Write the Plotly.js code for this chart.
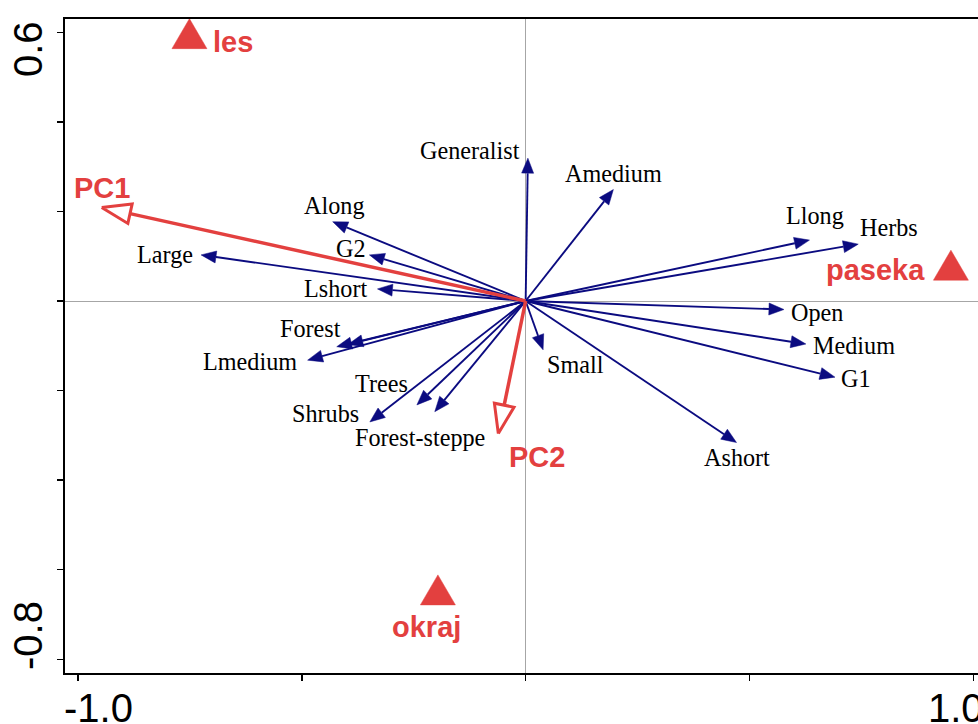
<!DOCTYPE html>
<html>
<head>
<meta charset="utf-8">
<script src="https://cdn.plot.ly/plotly-3.0.1.min.js"></script>
<style>
  html, body { margin: 0; padding: 0; background: #ffffff; overflow: hidden; }
  #chart { width: 978px; height: 724px; }
</style>
</head>
<body>
<div id="chart"></div>
<script>
// ---------------- DATA ----------------
// species-trait vectors (blue arrows)
const varNames = ['Generalist','Amedium','Along','G2','Large','Lshort','Llong','Herbs','Open','Medium','G1','Small','Ashort','Forest','','Lmedium','Trees','Shrubs','Forest-steppe'];
const varX = [0.005, 0.196, -0.431, -0.349, -0.725, -0.331, 0.634, 0.743, 0.577, 0.626, 0.691, 0.039, 0.471, -0.422, -0.397, -0.487, -0.243, -0.348, -0.203];
const varY = [0.319, 0.249, 0.177, 0.103, 0.103, 0.027, 0.136, 0.127, -0.019, -0.096, -0.170, -0.109, -0.316, -0.102, -0.097, -0.132, -0.232, -0.270, -0.247];

// supplementary vectors (red hollow arrows)
const pcNames = ['PC1', 'PC2'];
const pcX = [-0.947, -0.061];
const pcY = [0.209, -0.296];

// sites (red triangles)
const siteNames = ['les', 'paseka', 'okraj'];
const siteX = [-0.751, 0.950, -0.196];
const siteY = [0.597, 0.080, -0.645];

// axis ticks
const xTickVals = [-1.0, -0.5, 0, 0.5, 1.0];
const yTickVals = [-0.8, -0.6, -0.4, -0.2, 0, 0.2, 0.4, 0.6];
const xLabelVals = [-1.0, 1.0];
const xLabelText = ['-1.0', '1.0'];
const yLabelVals = [0.6, -0.8];
const yLabelText = ['0.6', '-0.8'];

// ---------------- LAYOUT / STYLE ----------------
const W = 978, H = 724;
const M = { l: 65, r: 0, t: 19, b: 51 };
const xRange = [-1.029, 1.0105];
const yRange = [-0.8306, 0.6297];
const pw = W - M.l - M.r, ph = H - M.t - M.b;
const sx = pw / (xRange[1] - xRange[0]);
const sy = ph / (yRange[1] - yRange[0]);

const BLUE = '#0b0b80';
const RED = '#e3403f';

// label offsets in pixels (dx right, dy down) from arrow tip to label centre
const varLabelOff = [[-57.8,-7.6],[0,-16],[1.3,-16.7],[-18.5,-6.7],[-35.7,0],[-42,-0.7],[5.7,-25],[30.4,-16.7],[33.5,3],[47.8,1],[21,1],[32.4,15],[0.5,15],[-26,-18.4],[0,0],[-58,1.7],[-35,-21.7],[-44.5,-8.4],[-14.5,26]];
const pcLabelOff = [[0.3,-19],[38.7,23.4]];
const siteLabelOff = [[43.3,8],[-75.4,4.7],[-11.3,37.3]];

// arrow head built from the data tip in pixel space, converted back to data units
function arrowParts(tx, ty, len, hw) {
  const px = tx * sx, py = ty * sy;
  const L = Math.hypot(px, py);
  const ux = px / L, uy = py / L;
  const nx = -uy, ny = ux;
  const bx = px - ux * len, by = py - uy * len;
  return {
    base: [bx / sx, by / sy],
    head: [[px / sx, py / sy], [(bx + nx * hw) / sx, (by + ny * hw) / sy], [(bx - nx * hw) / sx, (by - ny * hw) / sy], [px / sx, py / sy]]
  };
}

function triangle(cx, cy, w, h) {
  const dx = (w / 2) / sx, dyTop = (h / 2) / sy;
  return [[cx, cy + dyTop], [cx + dx, cy - dyTop], [cx - dx, cy - dyTop], [cx, cy + dyTop]];
}

// blue arrows
const bShaftX = [], bShaftY = [], bHeadX = [], bHeadY = [];
for (let i = 0; i < varX.length; i++) {
  const a = arrowParts(varX[i], varY[i], 15, 6);
  bShaftX.push(0, a.base[0], null); bShaftY.push(0, a.base[1], null);
  a.head.forEach(p => { bHeadX.push(p[0]); bHeadY.push(p[1]); });
  bHeadX.push(null); bHeadY.push(null);
}
// red arrows
const rShaftX = [], rShaftY = [], rHeadX = [], rHeadY = [];
for (let i = 0; i < pcX.length; i++) {
  const a = arrowParts(pcX[i], pcY[i], 29, 10);
  rShaftX.push(0, a.base[0], null); rShaftY.push(0, a.base[1], null);
  a.head.forEach(p => { rHeadX.push(p[0]); rHeadY.push(p[1]); });
  rHeadX.push(null); rHeadY.push(null);
}
// site triangles
const tX = [], tY = [];
for (let i = 0; i < siteX.length; i++) {
  triangle(siteX[i], siteY[i], 35, 30).forEach(p => { tX.push(p[0]); tY.push(p[1]); });
  tX.push(null); tY.push(null);
}

const traces = [
  { type: 'scatter', mode: 'lines', x: bShaftX, y: bShaftY, line: { color: BLUE, width: 1.9 }, hoverinfo: 'skip', showlegend: false },
  { type: 'scatter', mode: 'lines', x: bHeadX, y: bHeadY, fill: 'toself', fillcolor: BLUE, line: { color: BLUE, width: 0.5 }, hoverinfo: 'skip', showlegend: false },
  { type: 'scatter', mode: 'lines', x: rShaftX, y: rShaftY, line: { color: RED, width: 3.5 }, hoverinfo: 'skip', showlegend: false },
  { type: 'scatter', mode: 'lines', x: rHeadX, y: rHeadY, fill: 'toself', fillcolor: '#ffffff', line: { color: RED, width: 3 }, hoverinfo: 'skip', showlegend: false },
  { type: 'scatter', mode: 'lines', x: tX, y: tY, fill: 'toself', fillcolor: RED, line: { color: RED, width: 0.5 }, hoverinfo: 'skip', showlegend: false }
];

const annotations = [];
const serif = { family: 'Liberation Serif, Times New Roman, serif', size: 24.2, color: '#000000' };
const boldSans = { family: 'Liberation Sans, Arial, sans-serif', size: 29, color: RED, weight: 700 };
const tickFont = { family: 'Liberation Sans, Arial, sans-serif', size: 40, color: '#000000' };

varNames.forEach((n, i) => {
  if (!n) return;
  annotations.push({ x: varX[i], y: varY[i], xref: 'x', yref: 'y', text: n, showarrow: false, font: serif,
    xanchor: 'center', yanchor: 'middle', xshift: varLabelOff[i][0], yshift: -varLabelOff[i][1] });
});
pcNames.forEach((n, i) => {
  annotations.push({ x: pcX[i], y: pcY[i], xref: 'x', yref: 'y', text: n, showarrow: false, font: boldSans,
    xanchor: 'center', yanchor: 'middle', xshift: pcLabelOff[i][0], yshift: -pcLabelOff[i][1] });
});
siteNames.forEach((n, i) => {
  annotations.push({ x: siteX[i], y: siteY[i], xref: 'x', yref: 'y', text: n, showarrow: false, font: boldSans,
    xanchor: 'center', yanchor: 'middle', xshift: siteLabelOff[i][0], yshift: -siteLabelOff[i][1] });
});
// tick labels, kept inside the frame as in the original
const xTickShift = [20.6, -17];
xLabelVals.forEach((v, i) => {
  annotations.push({ x: v, y: 0, xref: 'x', yref: 'paper', text: xLabelText[i], showarrow: false, font: tickFont,
    xanchor: 'center', yanchor: 'middle', xshift: xTickShift[i], yshift: -34.5 });
});
const yTickShift = [-17.2, 23.8];
yLabelVals.forEach((v, i) => {
  annotations.push({ x: 0, y: v, xref: 'paper', yref: 'y', text: yLabelText[i], showarrow: false, font: tickFont,
    textangle: -90, xanchor: 'center', yanchor: 'middle', xshift: -37.5, yshift: yTickShift[i] });
});

const layout = {
  width: W, height: H,
  margin: M,
  paper_bgcolor: '#ffffff', plot_bgcolor: '#ffffff',
  showlegend: false,
  xaxis: {
    range: xRange, showgrid: false, zeroline: true, zerolinecolor: '#a6a6a6', zerolinewidth: 1,
    showline: true, linecolor: '#000000', linewidth: 2, mirror: true,
    ticks: 'outside', ticklen: 6, tickwidth: 1.5, tickcolor: '#000000',
    tickmode: 'array', tickvals: xTickVals, showticklabels: false, fixedrange: true
  },
  yaxis: {
    range: yRange, showgrid: false, zeroline: true, zerolinecolor: '#a6a6a6', zerolinewidth: 1,
    showline: true, linecolor: '#000000', linewidth: 2, mirror: false,
    ticks: 'outside', ticklen: 6, tickwidth: 1.5, tickcolor: '#000000',
    tickmode: 'array', tickvals: yTickVals, showticklabels: false, fixedrange: true
  },
  annotations: annotations
};

Plotly.newPlot('chart', traces, layout, { displayModeBar: false, staticPlot: true });
</script>
</body>
</html>
